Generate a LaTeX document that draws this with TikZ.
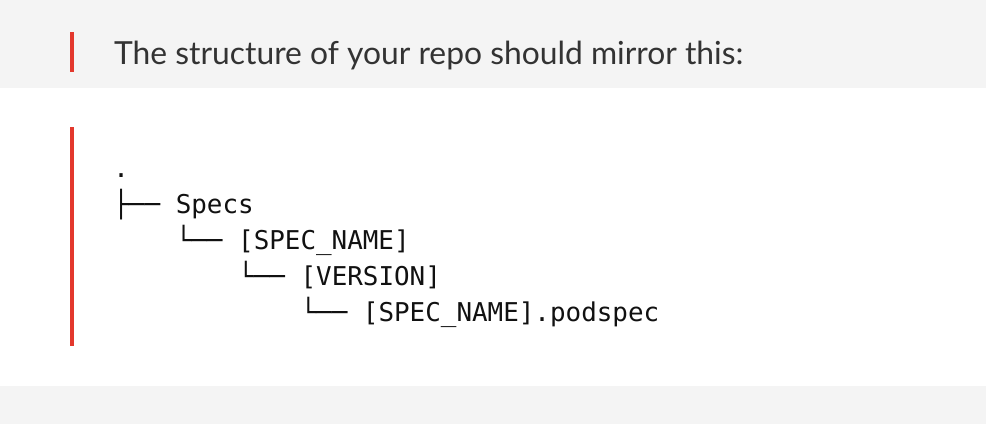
\documentclass[tikz,border=0pt]{standalone}
\usepackage{fontspec}
\setmainfont{Lato}
\setmonofont{DejaVu Sans Mono}
\definecolor{band}{HTML}{F4F4F4}
\definecolor{accent}{HTML}{E3382D}
\definecolor{headtext}{HTML}{333333}
\definecolor{codetext}{HTML}{111111}
\tikzset{
  heading/.style={anchor=base west, inner sep=0pt, text=headtext, font=\fontsize{31.8}{38}\selectfont},
  codeline/.style={anchor=base west, inner sep=0pt, text=codetext, font=\ttfamily\fontsize{25.9}{36}\selectfont},
  accentbar/.style={fill=accent, draw=none}
}
\begin{document}
\begin{tikzpicture}[x=1pt,y=-1pt]
  \useasboundingbox (0,0) rectangle (986,424);
  \fill[white] (0,0) rectangle (986,424);
  \fill[band] (0,0) rectangle (986,88);
  \fill[band] (0,386) rectangle (986,424);
  \path[accentbar] (70,32) rectangle (74,72);
  \path[accentbar] (70,127) rectangle (74,346);
  \node[heading] (title) at (114,64) {The structure of your repo should mirror this:};
  \def\cw{15.6}
  \node[codeline] (root) at (113.2,177) {.};
  \node[codeline] (specs) at (113.2,213) {├── Specs};
  \node[codeline] (specname) at ({113.2+4*\cw},249) {└── [SPEC\_NAME]};
  \node[codeline] (version) at ({113.2+8*\cw},285) {└── [VERSION]};
  \node[codeline] (podspec) at ({113.2+12*\cw},321) {└── [SPEC\_NAME].podspec};
\end{tikzpicture}
\end{document}
